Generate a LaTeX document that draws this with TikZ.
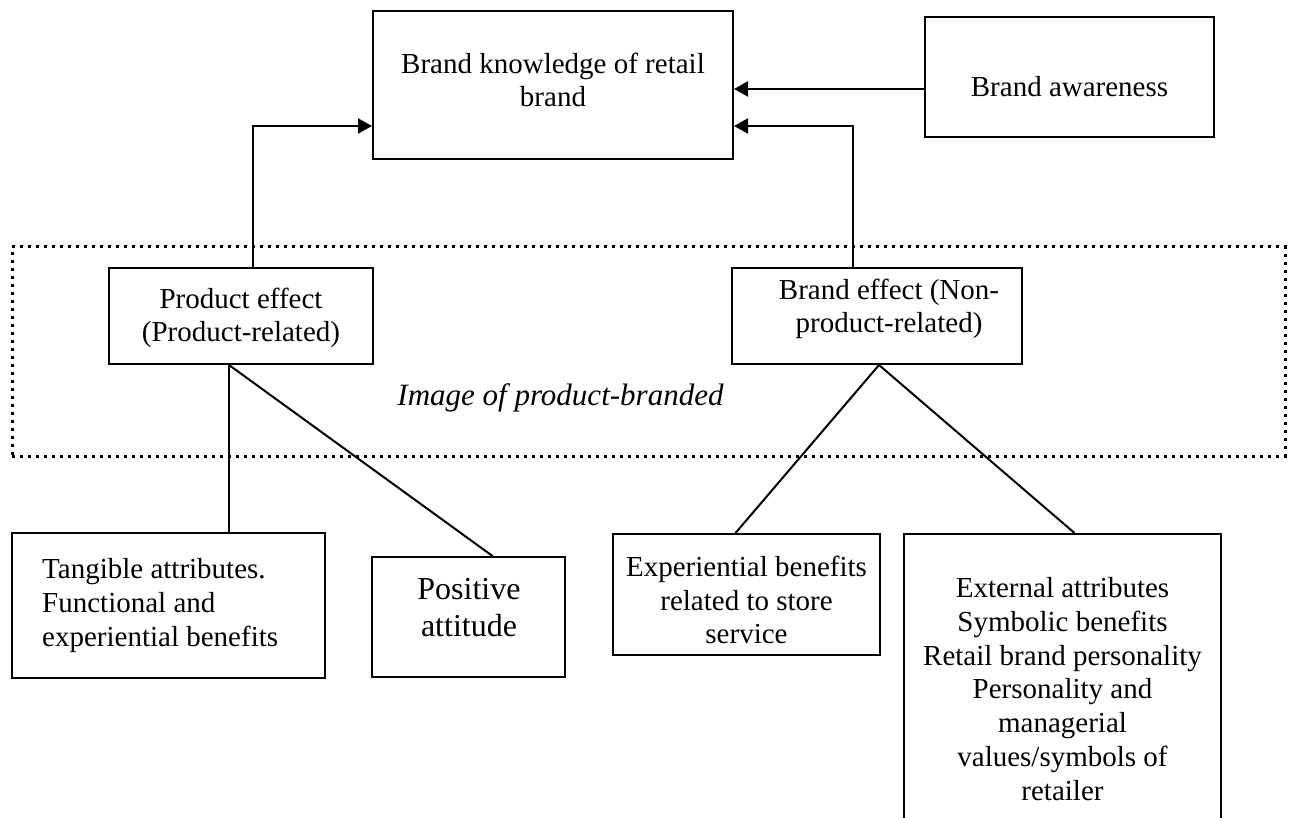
\documentclass[tikz,border=0pt]{standalone}
\usepackage{fontspec}
\setmainfont{Liberation Serif}
\usetikzlibrary{arrows.meta,calc}
\begin{document}
\begin{tikzpicture}[x=1pt,y=-1pt,
  box/.style={draw=black,line width=2pt,rectangle,inner sep=0pt},
  txt/.style={inner sep=0pt,align=center,font=\fontsize{29}{33.7}\selectfont},
  bigtxt/.style={inner sep=0pt,align=center,font=\fontsize{32}{37}\selectfont},
  ittxt/.style={inner sep=0pt,font=\fontsize{31}{36}\selectfont\itshape},
  conn/.style={line width=2pt},
  arr/.style={line width=2pt,-{Triangle[length=14pt,width=15pt]}},
  dotbox/.style={draw=black,line width=3pt,dash pattern=on 3pt off 5pt,inner sep=0pt}]
\useasboundingbox (0,0) rectangle (1295,818);
\fill[white] (0,0) rectangle (1295,818);
\clip (0,0) rectangle (1295,818);

% dotted group
\node[dotbox,minimum width=1273pt,minimum height=209pt] (grp) at (648.5,351.5) {};
\node[ittxt] (grplabel) at (560.5,398) {Image of product-branded};

% boxes
\node[box,minimum width=360pt,minimum height=148pt] (bk) at (553,85) {};
\node[txt] (bkt) at (553,80) {Brand knowledge of retail\\brand};

\node[box,minimum width=289pt,minimum height=120pt] (aw) at (1069.5,77) {};
\node[txt] (awt) at (1069.5,87) {Brand awareness};

\node[box,minimum width=264pt,minimum height=96pt] (pe) at (241,316) {};
\node[txt] (pet) at (241,318) {Product effect\\(Product-related)};

\node[box,minimum width=290pt,minimum height=96pt] (be) at (877,316) {};
\node[txt] (bet) at (889,309) {Brand effect (Non-\\product-related)};

\node[box,minimum width=313pt,minimum height=145pt] (ta) at (168.5,605.5) {};
\node[txt,align=left,anchor=west] (tat) at (42,605.5) {Tangible attributes.\\Functional and\\experiential benefits};

\node[box,minimum width=193pt,minimum height=120pt] (pa) at (468.5,617) {};
\node[bigtxt] (pat) at (469,608) {Positive\\attitude};

\node[box,minimum width=267pt,minimum height=121pt] (eb) at (746.5,594.5) {};
\node[txt] (ebt) at (746.5,600) {Experiential benefits\\related to store\\service};

\node[box,minimum width=317pt,minimum height=320pt] (ea) at (1062.5,694) {};
\node[txt] (eat) at (1062.5,689) {External attributes\\Symbolic benefits\\Retail brand personality\\Personality and\\managerial\\values/symbols of\\retailer};

% arrows to brand knowledge
\draw[arr] ([yshift=-12pt]aw.west) -- ([yshift=-12pt]aw.west -| bk.east);
\draw[arr] ([xshift=-24pt]be.north) |- ([yshift=-41pt]bk.east);
\draw[arr] ([xshift=12pt]pe.north) |- ([yshift=-41pt]bk.west);

% tree lines
\draw[conn] ([xshift=-12pt]pe.south) -- ([xshift=-12pt]pe.south |- ta.north);
\draw[conn] ([xshift=-12pt]pe.south) -- ([xshift=24pt]pa.north);
\draw[conn] ([xshift=2pt]be.south) -- ([xshift=-11pt]eb.north);
\draw[conn] ([xshift=2pt]be.south) -- ([xshift=12pt]ea.north);
\end{tikzpicture}
\end{document}
